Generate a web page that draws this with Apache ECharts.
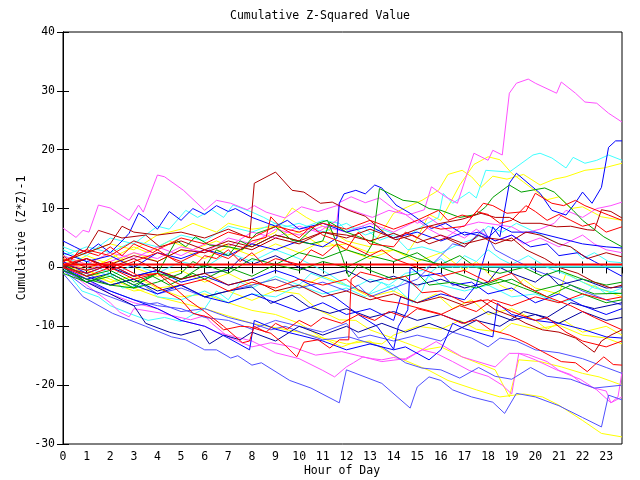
<!DOCTYPE html>
<html><head><meta charset="utf-8">
<script src="https://cdn.jsdelivr.net/npm/echarts@6/dist/echarts.min.js"></script>
<style>html,body{margin:0;padding:0;background:#fff}#c{width:640px;height:480px}</style>
</head><body><div id="c"></div>
<script>
// ---- tick labels / axis ranges ----
const xTicks = [0,1,2,3,4,5,6,7,8,9,10,11,12,13,14,15,16,17,18,19,20,21,22,23];
const yTicks = [-30,-20,-10,0,10,20,30,40];
const xEnd = 23.67;

// ---- series values: [hour, cumulative value] ----
const m1 = [[0,6.7],[0.55,5.1],[0.85,6.3],[1.1,6],[1.5,10.6],[2,10.1],[2.8,8],[3.2,10.6],[3.4,9.4],[4,15.7],[4.3,15.4],[5.1,13.1],[6,9.7],[6.5,11.4],[7.1,10.9],[7.8,9.8],[8.1,10.5],[8.6,9.4],[9.4,8.4],[10.1,10.3],[10.8,9.5],[11.6,10.5],[12.3,9.6],[13.1,8.5],[13.8,9.7],[14.6,8.9],[15.3,9.8],[15.6,13.7],[16.2,12],[16.7,10.9],[17.4,19.4],[18,18.2],[18.2,19.9],[18.6,19.1],[18.9,29.6],[19.2,31.3],[19.7,32],[20,31.3],[20.9,29.6],[21.1,31.5],[21.7,29.6],[22.1,28.1],[22.6,27.9],[23.1,26.2],[23.67,24.7]];
const c1 = [[0,3.5],[1,2],[2,5],[3,4],[4,7],[4.5,6.5],[5.2,9.7],[5.7,8.5],[6.3,9.8],[6.8,8.5],[7.2,10.6],[8,9.4],[8.5,8.5],[9.3,6.8],[10,7.5],[11,6],[12,7.5],[12.8,5.5],[13.5,6.5],[14.5,5],[15.2,7],[15.9,8.5],[16.1,12.6],[16.5,10.9],[17.2,12.8],[17.5,11.8],[17.9,16.5],[18.9,16.2],[19.9,19.1],[20.2,19.4],[20.7,18.6],[21.3,16.9],[21.6,18.7],[22.1,17.7],[22.6,18.2],[23.1,19.1],[23.67,18.2]];
const y1 = [[0,1.5],[1,-0.5],[2,1.5],[3,3.5],[3.6,2.5],[4.5,4.5],[5.5,3],[6.5,4.5],[7.5,2.8],[8.5,5],[9,6],[9.7,10.1],[10.3,8.5],[11,7],[12,4.5],[13,3.5],[13.5,6],[14,9.2],[14.6,10.3],[15.2,11.4],[15.9,13.1],[16.3,15.8],[16.9,16.5],[17.3,15.4],[17.7,13.6],[18.2,15.5],[18.8,15],[19.5,15.8],[20.2,14],[20.8,15],[21.3,15.4],[22.1,16.5],[22.9,16.9],[23.67,17.7]];
const y2 = [[0,0],[1,2],[2,0.5],[3,2.5],[4,1],[5,3],[6,1.5],[7,3.5],[8,2],[9,4],[10,2.5],[11,4.5],[12,3],[13,1.5],[14,3],[14.5,2],[15,5],[15.5,9],[16,8],[16.8,14],[17.4,17.5],[18,18.8],[18.5,18.3],[19,16],[19.5,14.5],[20,13],[20.5,11.5],[21,12],[21.5,10],[22,10.3],[22.8,8.6],[23.67,8]];
const b1 = [[0,-0.5],[1,-2],[2,-1],[3,-3],[4,-4.5],[5,-3],[6,-5],[7,-6],[8,-4.5],[9,-6],[10,-7.5],[11,-6],[12,-8],[13,-7],[14,-9],[14.3,-5],[15,-6],[16,-4.5],[17,-5.5],[17.5,-3],[17.8,1.2],[18.2,6.9],[18.5,5.2],[18.9,14.3],[19.2,16],[20.2,12.6],[20.7,9.7],[21.3,8.9],[21.7,11],[22,12.8],[22.4,10.9],[22.8,13.6],[23.1,20.4],[23.4,21.5],[23.67,21.5]];
const dr1 = [[0,1],[1,2.5],[2,4],[2.5,7],[3,6],[4,5.5],[5,6],[6,5],[7,6.5],[7.9,5],[8.1,14.3],[9,16.2],[9.7,13.1],[10.2,12.8],[10.9,10.9],[11.4,11.1],[12.1,9.7],[12.8,8.7],[13.8,5.2],[14.1,4.7],[14.8,5.5],[15.5,4],[16.2,5],[17,3.5],[17.6,5.5],[18.3,4],[19,5],[19.6,3],[20.4,1.5],[21,0],[21.8,-1],[22.5,-2.5],[23.2,-3.5],[23.67,-3]];
const b2 = [[0,2.5],[1,1],[2,2],[3,0],[4,2.5],[5,1.5],[6,3],[7,2],[8,4],[9,3],[10,4.5],[11,3.5],[11.6,5],[11.7,10.9],[11.9,12.5],[12.4,13.1],[12.8,12.5],[13.2,14],[13.5,13.5],[14.1,10.6],[14.7,9.2],[15.6,6.6],[16.2,7.5],[17,5.5],[17.6,6],[18.3,4.5],[19,5.5],[19.8,3.5],[20.5,4],[21,2],[21.8,2.5],[22.5,1],[23.2,-0.5],[23.67,-1.5]];
const g1 = [[0,0.5],[1,-1.5],[2,-0.5],[3,-2.5],[4,-1],[5,-2],[6,0.5],[7,-1],[8,1.5],[9,0.5],[10,2.5],[11,1.5],[12,3],[12.8,2],[13.1,4],[13.4,13.4],[14.4,11.4],[15,11.1],[15.5,10],[16,9.7],[16.8,8.5],[17.5,9],[17.9,10.3],[18.2,11.9],[18.9,14],[19.4,12.8],[20.4,13.5],[20.8,12.8],[21.6,9.7],[22,8],[22.9,5.2],[23.67,3.5]];
const g2 = [[0,-1],[1,-2.5],[2,-1.5],[3,-3.5],[4,-2.5],[5,-1],[5.5,1],[6,0],[6.5,3],[7,2],[7.5,4.5],[8,3.5],[9,5.5],[10,4.5],[10.8,7.5],[11.2,8],[11.8,2],[12.1,-1.6],[12.5,0.5],[13,-0.5],[14,-2],[15,-1],[15.5,-3],[16.5,-2.5],[17.5,-3.5],[18.5,-2],[19.5,-3.5],[20.5,-5],[21.5,-3],[22.5,-4.5],[23.67,-4.4]];
const g3 = [[0,-0.5],[1,-2],[2,-3],[3,-3.5],[3.5,-2],[4,-1],[4.8,4.6],[5.2,3.5],[5.6,5.2],[6.2,3.8],[7,3.5],[7.6,3],[8,5],[8.2,5.8],[9,6.9],[9.7,4.6],[10.5,4],[11,4.5],[11.3,7.7],[12,6],[13,4.5],[14,3],[15,1.5],[16,0.5],[16.8,2],[17.5,0],[18.5,-1],[19.5,0],[20.3,-1.5],[21,-0.5],[22,-2],[23,-3],[23.67,-2.5]];
const g4 = [[0,0],[1,-2.5],[2,-1],[3,-3],[3.8,-1.5],[4.5,-3],[5.5,-1],[6,-2],[7,0],[8,-1.5],[9,0.5],[10,-0.5],[11,1],[12,0],[13,2],[14,1],[15,2.5],[16,0],[17,-1.5],[18,-3],[19,-2],[20,-4],[21,-3],[22,-4.5],[23,-6],[23.67,-5.5]];
const r1 = [[0,1],[1,3],[2,2],[3,4.5],[4,3],[5,5],[6,4],[7,6],[8,5],[9,7],[10,6],[11,7.5],[12,6.5],[13,8],[14,6.5],[15,8],[15.9,9.7],[16.3,8],[16.9,8.9],[17.3,8.5],[17.8,10.9],[18.2,10.5],[18.8,9.2],[19.6,9.5],[20,12.6],[20.7,10.9],[21.2,10.5],[21.7,11.4],[22.1,10.5],[22.6,9.7],[23.1,8.9],[23.67,8]];
const r2 = [[0,0.5],[1,1.5],[2,-0.5],[3,1],[4,2.5],[5,1],[6,3],[7,1.5],[8,4.5],[8.6,5.1],[8.8,8.6],[9.2,6.9],[10,5],[10.5,7],[11,5.5],[12,4],[13,2],[13.5,3],[14,1.5],[15,0],[16,-1.5],[17,-0.5],[18,-2.5],[19,-1],[19.5,-3],[20.5,-5],[21.5,-6.5],[22.5,-8.5],[23.67,-10.6]];
const r3 = [[0,1.5],[1,0],[2,1],[3,-1],[4,-3.3],[5,-5.5],[5.5,-7.8],[6.2,-8.5],[6.8,-10.6],[7.5,-10],[7.9,-10.1],[8.8,-11.2],[9.4,-13.2],[9.9,-15.2],[10.2,-12.7],[10.8,-12.3],[11.3,-13.7],[11.7,-12.3],[12.1,-12.3],[12.2,-2],[12.6,-0.8],[13.3,-1.5],[13.8,-2.1],[14.5,-1.5],[15.2,-4.3],[16,-4],[17,-6],[18,-5.5],[19,-7.5],[20,-9],[20.5,-8.5],[21.3,-11],[22,-12.5],[23,-13.5],[23.67,-12.5]];
const r4 = [[0,0],[1,-1.5],[2,0],[3,-2],[4,-1],[5,-3],[6,-2],[7,-4],[8,-2.5],[9,-3.5],[10,-2],[11,-3],[12,-2],[12.5,-3.8],[13.5,-5.6],[14.3,-6.1],[15.9,-7.8],[16.9,-9.5],[17.5,-8.9],[18.1,-10.6],[18.9,-11.5],[19.6,-12.8],[20.3,-14.3],[21.1,-16],[21.7,-16.2],[22.2,-17.7],[22.5,-16.6],[22.9,-15.2],[23.3,-16.5],[23.67,-16.6]];
const r5 = [[0,0],[1,-1],[2,0.5],[3,-1.5],[4,-1],[4.6,-3],[5.3,-5.5],[6,-7.5],[6.8,-10],[7.6,-12.8],[7.9,-12.5],[8.1,-10],[8.6,-11],[9,-9.5],[9.5,-10.5],[10,-9],[10.5,-10],[11,-8.5],[11.8,-9.5],[12.5,-8],[13.2,-9],[13.8,-7.5],[14.5,-8.5],[15,-7],[16,-8],[16.8,-6.5],[17.5,-7.5],[18.2,-5.5],[19,-6.5],[20,-5],[21,-6],[22,-4.5],[23,-5.5],[23.67,-5]];
const r6 = [[0,2],[0.3,1],[0.7,3],[1.5,2],[2,3.5],[2.5,2],[3,4],[3.8,2.5],[4,3],[4.8,1],[5.5,0],[6,2],[6.5,1.5],[7,3],[7.5,1],[8,2.5],[8.5,0.5],[9,1.5],[10,0.5],[10.5,3],[11,2],[11.6,4],[12,3],[12.5,6],[13,4],[14,3.5],[14.5,6],[15,5],[15.5,7],[16,6.5],[17,7],[17.5,9.5],[18,9],[18.5,7.5],[19,8],[19.6,10.5],[20,9.5],[20.5,8],[21,9],[21.5,8],[22,7],[22.5,7.5],[23,6],[23.67,6.9]];
const dr2 = [[0,1],[1,3],[1.5,6.3],[2.5,5],[3.5,5.5],[4.1,3.5],[5,4.5],[6,3],[7,4.5],[8,3.5],[9,5.5],[10,4.5],[11,6],[12,5],[13,6.5],[14,5],[15,6.5],[16,7.5],[16.9,8.2],[17.7,9.2],[18.3,8.5],[18.9,8.5],[19.4,7.5],[20.2,7.5],[20.9,6.9],[21.5,7],[22.2,6.4],[22.5,6.3],[22.8,9.8],[23.2,9.5],[23.67,8.4]];
const dr3 = [[0,0.5],[1,-0.5],[2,0.5],[3,2],[4,1],[5,3],[6,2.5],[7,4],[8,3],[9,5],[10,4],[11,6],[12,5.5],[13,4.5],[14,5.8],[15,4.2],[16,5.5],[17,4],[18,5],[19,4.5],[19.6,6],[20.2,5.5],[21,4],[21.5,3.5],[22.2,1.5],[23,2.5],[23.67,1.8]];
const dr4 = [[0,0],[1,1.5],[2,0],[3,1.5],[4,-0.5],[5,-2],[6,-1],[7,-3],[8,-2],[9,-4],[10,-3],[11,-5],[12,-4],[13,-5.5],[14,-4.5],[15,-6],[16,-5],[17,-6.5],[17.7,-5.5],[18.3,-7.2],[19.1,-8.4],[19.6,-9.5],[20.3,-10.6],[21,-11],[21.7,-12],[22.2,-13.5],[22.5,-14.4],[22.8,-12.5],[23.2,-11.5],[23.67,-10.6]];
const b3 = [[0,0],[1,-2],[2,-4],[3,-5.5],[4,-7],[5,-9],[6,-10],[7,-12],[7.9,-14],[8.1,-9],[9,-10.5],[10,-11.5],[11,-12.5],[12,-14],[13,-13],[14,-14],[14.5,-13.5],[15.5,-15.7],[16,-14],[16.5,-9.5],[17,-10.4],[17.5,-11],[18.2,-11.8],[18.4,-6.1],[19,-8],[20,-9],[21,-9.5],[22,-10.5],[23,-11.8],[23.67,-12]];
const b4 = [[0,1],[1,-1],[2,0.5],[3,-1.5],[4,-0.5],[5,-2.5],[6,-1.5],[7,-3],[8,-2],[9,-0.5],[9.8,-1.6],[10.5,-3],[11.5,-5],[12.5,-8],[13.3,-10],[14,-13.9],[14.2,-10],[14.6,-7.2],[14.7,0],[15.2,-1.5],[16,-1],[16.5,-3],[17.3,-2.5],[18,-4.5],[19,-3.5],[20,-6],[21,-4.5],[22,-6.5],[23,-8],[23.67,-7]];
const b5 = [[0,4.5],[0.5,3.5],[1,2.5],[1.5,4],[2,2.5],[2.5,4.5],[2.8,5.8],[3.2,9.2],[3.5,8.4],[4,6.5],[4.5,9.5],[5,8],[5.5,10],[6,9],[6.5,10.5],[7,9.5],[7.3,10],[8,8.5],[9,7],[9.5,8],[10,6.5],[11,7.5],[12,6],[13,7],[14,5],[15,6],[16,4.5],[17,6],[18,5],[18.5,7],[19,6],[20,6],[21,5],[22,4],[23,3.5],[23.67,3.3]];
const b6 = [[0,0.5],[1,-1.5],[2,-3],[3,-2],[4,-4],[5,-3],[6,-5],[7,-4],[8,-3.3],[8.8,-6.1],[9.7,-4.7],[10.4,-6.7],[11.3,-7.8],[12,-7],[13,-8.5],[14,-7.5],[15,-9],[16,-8],[17,-9.5],[18,-7.5],[19,-9],[20,-8],[21,-9.5],[22,-7.5],[23,-9],[23.67,-8.5]];
const b7 = [[0,0],[1,-2.5],[2,-4.5],[3,-6.5],[3.5,-9.5],[4.5,-11],[5,-11.5],[5.8,-10.6],[6.2,-13],[6.8,-11.5],[7.5,-12.3],[8,-11],[9,-12.5],[10,-10],[11,-11.5],[12,-10],[12.5,-11],[13.5,-9.5],[14.5,-11],[15.5,-9.5],[16.5,-11],[17.5,-9],[18.5,-10],[19.5,-7.5],[20.5,-8.5],[21.5,-6],[22.5,-7],[23.67,-6]];
const b8 = [[0,0],[1,1.5],[2,0],[3,-1.5],[4,-0.5],[5,-2],[6,-1],[7,-0.5],[7.5,1.5],[8,0.5],[9,2],[10,0],[11,-1.5],[12,-0.5],[13,-2.5],[14,-1.5],[15,-3],[16,-2],[17,-3.5],[18,-2.5],[18.5,0],[19,-1],[20,-2.5],[20.5,-1],[21,-3],[22,-2],[23,-3.5],[23.67,-3.3]];
const sb1 = [[0,-1],[0.85,-5],[2.1,-7.8],[3.5,-10],[4.6,-11.8],[5.2,-12.3],[6,-14],[6.5,-14],[7.1,-15.4],[7.4,-15],[8,-16.6],[8.4,-16.2],[9.6,-19.2],[10.5,-20.5],[11.7,-23],[12,-17.4],[13.5,-19.7],[14.7,-23.9],[15,-20.3],[15.5,-18.6],[16,-19.2],[16.5,-20.8],[17.3,-22],[18.2,-22.9],[18.7,-24.8],[19.2,-21.4],[20,-22],[21,-23.5],[22,-25.5],[22.8,-27.1],[23.1,-21.7],[23.67,-22.5]];
const sb2 = [[0,-0.5],[1,-3.5],[2,-5],[3,-6.5],[4,-6],[5,-7.5],[6,-7],[7,-8.5],[8,-9.5],[8.8,-10.6],[9.4,-10],[10.2,-11.2],[11,-12.3],[12.1,-11.8],[13.5,-13.5],[14.5,-16.2],[15.2,-17.1],[16,-17.4],[16.8,-18.8],[17.6,-17],[18.3,-18.5],[19,-19],[19.8,-17],[20.5,-18.5],[21.5,-19],[22.5,-20.5],[23.67,-20]];
const sb3 = [[0,0],[1,-1],[2,-3],[3,-2],[4,-4.5],[5,-3.5],[6,-5],[7,-4],[8,-3],[9,-2],[10,-3.5],[11,-2.5],[12,-4],[12.5,-3],[13,-5],[14,-3.5],[15,-2],[16,2],[16.5,4],[17,3.5],[17.8,6.5],[18.3,3],[19,1.5],[20,-0.5],[21,-2],[22,-4],[23,-5.5],[23.67,-6.4]];
const sb4 = [[0,-0.5],[1,-2.5],[2,-4],[3,-5.5],[4,-6.5],[5,-7],[6,-8.5],[7,-9],[8,-10.5],[9,-9],[10,-10],[11,-11],[12,-9.5],[12.5,-12],[13,-11.5],[14,-12.5],[15,-11.5],[16,-12.5],[16.5,-11],[17.3,-12],[18,-13.5],[18.5,-12],[19.2,-12.5],[20,-14],[21,-14.5],[22,-15.5],[23,-17],[23.67,-18]];
const c2 = [[0,0],[0.8,-4],[1.5,-5],[2,-6.5],[2.8,-7.8],[3.6,-9],[4.3,-8.5],[5,-9.2],[5.5,-8],[6,-7],[6.5,-4],[7,-5.5],[7.5,-2.5],[8,-3.5],[9,-1.5],[10,-3],[10.5,-1],[11.5,-2.5],[12.3,-3.5],[13,-2],[13.8,-3],[14.5,-1],[15.2,-0.5],[16,1.5],[16.5,0],[17,2],[17.5,1],[18,3],[18.5,1.5],[19,0.5],[19.7,2],[20.5,0],[21.5,-1.5],[22.5,-3.5],[23.67,-4.5]];
const c3 = [[0,2],[1,0],[2,-1.5],[3,0.5],[4,-1],[5,1],[6,0],[7,2.5],[8,1],[9,3],[10,1.5],[11,-0.5],[12,-3],[13,-4.5],[14,-3],[14.8,-6],[15.2,-4],[15.5,-1],[15.9,0.15]];
const c3flat = [[15.9,0.15],[23.67,0.15]];
const c4 = [[0,3],[1,1],[2,-1],[2.5,-3.5],[3.5,-3],[4,-5],[5,-5.5],[6,-4],[7,-6],[8,-4.5],[9,-5],[10,-3],[11,-4.5],[12,-3.5],[12.8,-5],[13.5,-2.5],[14,-4],[14.5,-2],[15,-3.5],[15.5,-1.5],[16,-3],[17,-4],[18,-3],[19,-5],[20,-4.5],[21,-6],[22,-5],[22.5,-3],[23,-4.5],[23.67,-3.5]];
const c5 = [[0,2],[1,3.5],[2,2.5],[3,4.5],[4,3.5],[5,5.5],[6,4.5],[7,7],[8,6],[9,7.5],[10,6.5],[11,8],[11.7,7.5],[12,6.3],[12.7,7],[13.4,4.6],[14,5.5],[14.6,3],[15.2,3.5],[16,2.5],[16.8,4],[17.5,5],[18,7],[18.6,6],[19.2,7.5],[20,6],[21,4],[21.5,3.5],[22,1.5],[22.5,2.5],[23.1,1],[23.67,0.8]];
const y3 = [[0,1],[1,-0.5],[2,-2.5],[3,-1.5],[4,-3.5],[5,-3],[6,-5],[7,-4],[8,-5.6],[9,-3.9],[10,-4.5],[10.8,-7.2],[11.7,-8.9],[12.4,-9],[13,-10.6],[14.5,-12.8],[15.3,-14],[16,-13.5],[16.9,-15.2],[18.3,-17.4],[18.9,-22],[19.3,-15.7],[20.2,-16],[21.1,-16.9],[22,-18],[22.7,-18.6],[23.67,-20]];
const y4 = [[0,2],[1,0.5],[2,2.5],[3,0],[4,-1.5],[5,-0.5],[6,-2.5],[7,-1],[8,-3],[9,-2],[10,-3.5],[11,-1.5],[12,-3],[13,-5],[14,-4],[15,-6],[15.8,-4.5],[16.5,-7],[17.3,-5.5],[18,-8],[19,-7],[20,-9],[20.5,-10.5],[21.2,-9],[22,-11],[23,-10],[23.67,-11.5]];
const y5 = [[0,1],[1,2.5],[2,4],[3,3],[4,5.5],[5,6.5],[5.5,7.5],[6.5,6],[7,7.5],[8,6.5],[9,7],[9.5,5.5],[10,6],[11,3.5],[12,4],[13,2.5],[14,3],[15,1],[16,2.5],[17,-0.5],[17.5,1],[18,-1],[18.5,-3],[19,-4],[19.5,-2],[20,-3.5],[21,-4.5],[21.3,-1],[22,-2.5],[23,-4],[23.67,-5]];
const y6 = [[0,0.5],[1,-1],[2,-2.5],[3,-4],[4,-3.5],[5,-5],[6,-4.5],[7,-6],[8,-7.3],[9,-8],[10,-9.5],[11,-12],[11.8,-13.5],[12.5,-12.5],[13.5,-13],[14,-11.5],[15,-10],[16,-10.5],[16.8,-9],[17.5,-10.5],[18.5,-11],[19,-9.5],[20,-10.5],[21,-9.8],[22,-11.5],[23,-12],[23.67,-13]];
const y7 = [[0,1],[2,-2],[4,-5],[6,-7],[8,-9.5],[10,-11],[12,-13],[13,-12.5],[14,-15],[15.5,-17.5],[16.3,-19.2],[17.5,-20.8],[18.5,-22],[19.5,-21.5],[20.3,-22],[21,-23.4],[22,-26],[22.8,-28.2],[23.67,-28.8]];
const m2 = [[0,0],[1,-3],[2,-6],[2.4,-7.6],[2.8,-8.4],[3,-7],[4.2,-7.8],[5.4,-8.9],[6,-8.2],[6.3,-9.5],[7,-11.8],[8,-13.5],[8.8,-12.8],[9.7,-13.5],[10.7,-14.9],[11.8,-14.3],[12.5,-15],[13.5,-16],[14.5,-15.5],[15.2,-14],[15.8,-12.6],[16.9,-15.2],[18.3,-16.9],[18.9,-14.6],[19.3,-14.6],[20,-15.7],[20.9,-17.4],[21.9,-19],[22.6,-20.8],[23.2,-23],[23.5,-22],[23.67,-17.8]];
const m4 = [[0,1],[1,-0.5],[2,1],[3,2.5],[4,1.5],[5,3.5],[6,2.5],[7,5],[8,4],[9,6.5],[10,5.5],[11,7],[12,6],[13,7.5],[14,6],[15,8],[15.5,6.5],[16.2,5],[16.9,7],[17.6,7.7],[18.3,7.3],[19,6.9],[19.5,5.8],[20.2,6.5],[20.8,7.5],[21.3,9.7],[22,8.5],[22.6,10],[23.2,10.5],[23.67,11.1]];
const m5 = [[0,0.5],[1,-2],[2,-4.5],[3,-6],[4,-7],[5,-9],[6,-10],[6.5,-11],[7,-11.5],[8,-12.5],[9,-14.5],[10,-15.5],[11,-17.5],[11.5,-18.6],[12,-16.9],[12.3,-16.2],[12.7,-15.2],[13.1,-15.5],[13.5,-15.7],[14,-15.3],[14.5,-15.7],[15.2,-14],[15.8,-14.6],[16.5,-16],[17.2,-17.5],[18,-18.5],[18.6,-20],[19,-21.5],[19.3,-14.6],[19.7,-14.8],[20.5,-16],[21,-17.5],[21.5,-18.2],[22,-19.8],[22.5,-20.5],[23,-21],[23.2,-23],[23.67,-22]];
const m6 = [[0,2],[1,0.5],[2,2.5],[3,1.5],[4,3.5],[5,2],[6,4],[7,3.5],[8,6],[9,5],[10,7],[10.8,6],[11.6,8],[11.7,11],[12.2,12],[12.8,11],[13.4,11.8],[14,10],[14.5,9],[15,7.5],[15.5,8.5],[16.2,6.5],[17,5],[17.5,6.5],[18.3,4.5],[19,5.5],[19.5,4],[20.2,5],[21,3.5],[21.5,4.5],[22,5.5],[22.5,4],[23,3],[23.67,2.5]];
const refLine = [[0,0.5],[23.67,0.5]];

// ---- colours per line ----
const COL = {R:'#ff0000', DR:'#b00000', G:'#00a000', B:'#0000ff', NB:'#0000a0', SB:'#5050ff', M:'#ff50ff', C:'#40ffff', Y:'#ffff00'};
const lines = [
  [y7,'Y'],[y3,'Y'],[y4,'Y'],[y5,'Y'],[y6,'Y'],[y1,'Y'],[y2,'Y'],
  [c1,'C'],[c2,'C'],[c3,'C'],[c4,'C'],[c5,'C'],
  [m1,'M'],[m2,'M'],[m4,'M'],[m5,'M'],[m6,'M'],
  [sb1,'SB'],[sb2,'SB'],[sb3,'SB'],[sb4,'SB'],
  [b6,'NB'],[b7,'NB'],[b8,'NB'],
  [b1,'B'],[b2,'B'],[b3,'B'],[b4,'B'],[b5,'B'],
  [g1,'G'],[g2,'G'],[g3,'G'],[g4,'G'],
  [dr1,'DR'],[dr2,'DR'],[dr3,'DR'],[dr4,'DR'],
  [r1,'R'],[r2,'R'],[r3,'R'],[r4,'R'],[r5,'R'],[r6,'R']
];

const FONT = 'DejaVu Sans Mono';
const series = lines.map(([d,c]) => ({
  type:'line', data:d, showSymbol:false, silent:true, animation:false,
  lineStyle:{color:COL[c], width:1}, z:2
}));
series.push({type:'line', data:c3flat, showSymbol:false, silent:true, animation:false, lineStyle:{color:COL.C, width:2}, z:3});
series.push({type:'line', data:refLine, showSymbol:false, silent:true, animation:false, lineStyle:{color:COL.R, width:2}, z:4});

const baseX = {type:'value', min:0, max:xEnd, interval:1, splitLine:{show:false},
  axisLine:{show:true, lineStyle:{color:'#000', width:1}},
  axisTick:{show:true, inside:true, length:6, lineStyle:{color:'#000'}}};
const baseY = {type:'value', min:yTicks[0], max:yTicks[yTicks.length-1], interval:10, splitLine:{show:false},
  axisLine:{show:true, lineStyle:{color:'#000', width:1}},
  axisTick:{show:true, inside:true, length:6, lineStyle:{color:'#000'}}};

const chart = echarts.init(document.getElementById('c'), null, {renderer:'canvas'});
chart.setOption({
  animation:false,
  backgroundColor:'#ffffff',
  grid:{left:63, right:18, top:32, bottom:36, show:true, borderColor:'#000', borderWidth:1},
  xAxis:[
    Object.assign({}, baseX, {position:'bottom',
      axisLabel:{show:true, margin:7, color:'#000', fontFamily:FONT, fontSize:11.5, showMaxLabel:false,
        formatter:v => xTicks.indexOf(v) >= 0 ? String(v) : ''}}),
    Object.assign({}, baseX, {position:'top', axisLabel:{show:false}})
  ],
  yAxis:[
    Object.assign({}, baseY, {position:'left',
      axisLabel:{show:true, margin:8, color:'#000', fontFamily:FONT, fontSize:11.5}}),
    Object.assign({}, baseY, {position:'right', axisLabel:{show:false}})
  ],
  graphic:[
    {type:'text', left:'center', x:342, y:16, style:{text:'Cumulative Z-Squared Value', fill:'#000', font:'11.5px "DejaVu Sans Mono"', textAlign:'center', textVerticalAlign:'middle'}, position:[342,16]},
    {type:'text', position:[342,471], style:{text:'Hour of Day', fill:'#000', font:'11.5px "DejaVu Sans Mono"', textAlign:'center', textVerticalAlign:'middle'}},
    {type:'text', position:[22,238], rotation:Math.PI/2, style:{text:'Cumulative (Z*Z)-1', fill:'#000', font:'11.5px "DejaVu Sans Mono"', textAlign:'center', textVerticalAlign:'middle'}}
  ],
  series:series
});
</script></body></html>
